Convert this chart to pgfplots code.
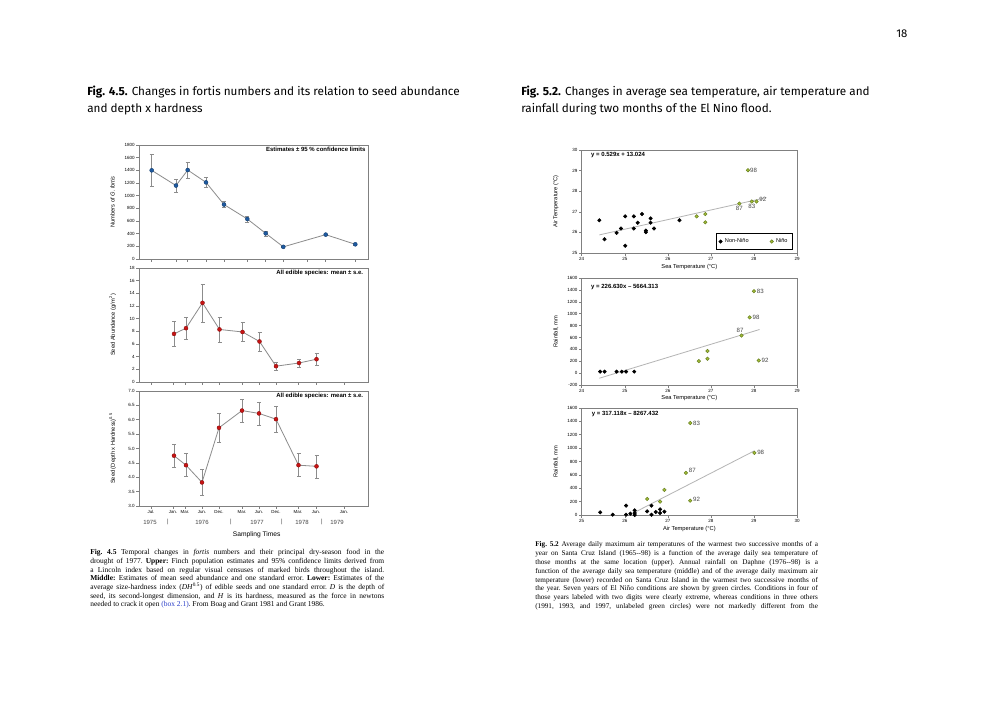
\documentclass[border=0pt]{standalone}
\usepackage{fontspec}
\setmainfont{Liberation Sans}
\newfontfamily\capfont{Liberation Serif}
\newfontfamily\headfont{Fira Sans}
\usepackage{pgfplots}
\pgfplotsset{compat=1.18}

\definecolor{framegray}{RGB}{128,128,128}
\definecolor{linegray}{RGB}{140,140,140}
\definecolor{trendgray}{RGB}{180,180,180}
\definecolor{ptblue}{RGB}{30,90,160}
\definecolor{ptred}{RGB}{200,20,20}
\definecolor{ninogreen}{RGB}{165,190,55}
\definecolor{ninoedge}{RGB}{105,130,35}
\definecolor{numgray}{RGB}{70,70,70}
\definecolor{boxblue}{RGB}{40,60,200}

\newcommand\tf[1]{\fontsize{#1}{#1}\selectfont}

\pgfplotsset{
  panel/.style={
    scale only axis,
    axis line style={framegray, line width=0.5pt},
    tick style={framegray, line width=0.4pt},
    tick align=outside, major tick length=2pt,
    xtick pos=bottom, ytick pos=left,
    /pgf/number format/assume math mode=true,
    /pgf/number format/1000 sep={},
    tick label style={font=\tf{3.4}, inner sep=1pt},
    label style={font=\tf{4.3}},
  },
  left panel/.style={panel,
    width=171.75pt, height=85.5pt, xmin=139, xmax=368,
    ylabel style={at={(rel axis cs:-0.115,0.5)}, anchor=center},
  },
  right panel/.style={panel,
    width=161.5pt, xmin=24, xmax=29, xtick distance=1,
    ylabel style={at={(rel axis cs:-0.12,0.5)}, anchor=center},
    legend cell align=left,
  },
  series/.style={linegray, line width=0.6pt, mark=*, mark size=1.5pt,
    error bars/y dir=both, error bars/y explicit,
    error bars/error bar style={linegray, line width=0.4pt},
    error bars/error mark options={rotate=90, mark size=1.5pt, linegray, line width=0.4pt}},
  blk/.style={only marks, mark=*, mark size=1.3pt, mark options={fill=black, draw=black}},
  grn/.style={only marks, mark=*, mark size=1.3pt, mark options={fill=ninogreen, draw=ninoedge, line width=0.4pt}},
  trend/.style={trendgray, line width=0.6pt, no marks, forget plot},
}
\tikzset{yr/.style={numgray, font=\tf{4.5}, inner sep=0.5pt},
  lbl/.style={numgray, font=\tf{4.6}, inner sep=0.5pt}}

\begin{document}
% picture units: 1 unit = one pixel of the 1000x708 page, y downwards
\begin{tikzpicture}[x=0.75pt, y=-0.75pt]
\fill[white] (0,0) rectangle (1000,708);

% page number and headings
\node[anchor=base west, inner sep=0, font=\headfont\fontsize{8.5}{10}\selectfont] at (896,37) {18};
\node[anchor=base west, inner sep=0, font=\headfont\fontsize{8.8}{13}\selectfont] at (87,95) {\textbf{Fig. 4.5.} Changes in fortis numbers and its relation to seed abundance};
\node[anchor=base west, inner sep=0, font=\headfont\fontsize{8.8}{13}\selectfont] at (87,112.5) {and depth x hardness};
\node[anchor=base west, inner sep=0, font=\headfont\fontsize{8.8}{13}\selectfont] at (521,95) {\textbf{Fig. 5.2.} Changes in average sea temperature, air temperature and};
\node[anchor=base west, inner sep=0, font=\headfont\fontsize{8.8}{13}\selectfont] at (521,112.5) {rainfall during two months of the El Nino flood.};

% ---------- Fig. 4.5, upper: finch numbers
\begin{axis}[left panel, at={(104.25pt,-194.25pt)}, anchor=south west,
    ymin=0, ymax=1800, ytick distance=200,
    xtick={151.7,176,187.7,206,224,247.3,265.7,283.3,307.7,325.7,355.3}, xticklabels={},
    ylabel={Numbers of \textit{G. fortis}}]
\addplot[series, mark options={fill=ptblue, draw=ptblue!70!black, line width=0.3pt}] coordinates {
  (151.7,1400) +- (0,250)
  (176,1160) +- (0,100)
  (187.7,1405) +- (0,130)
  (206,1210) +- (0,80)
  (224,860) +- (0,50)
  (247.3,632) +- (0,45)
  (265.7,405) +- (0,40)
  (283.3,192) +- (0,10)
  (325.7,385) +- (0,10)
  (355.3,232) +- (0,10)
};
\node[anchor=east, inner sep=0, font=\bfseries\tf{4.5}] at (rel axis cs:0.99,0.962) {Estimates ± 95 \% confidence limits};
\end{axis}

% ---------- Fig. 4.5, middle: seed abundance
\begin{axis}[left panel, at={(104.25pt,-286.5pt)}, anchor=south west,
    ymin=0, ymax=18, ytick distance=2,
    xtick={151,173,185,202,219,242,259,276,298,316,344}, xticklabels={},
    ylabel={Seed Abundance (g/m\textsuperscript{2})}]
\addplot[series, mark options={fill=ptred, draw=ptred!70!black, line width=0.3pt}] coordinates {
  (174,7.6) +- (0,2.0)
  (186,8.5) +- (0,1.8)
  (202.5,12.5) +- (0,3.0)
  (219.5,8.3) +- (0,2.0)
  (242.5,7.9) +- (0,1.5)
  (259.5,6.4) +- (0,1.5)
  (276,2.5) +- (0,0.6)
  (299,3.0) +- (0,0.6)
  (316.5,3.6) +- (0,0.9)
};
\node[anchor=east, inner sep=0, font=\bfseries\tf{4.5}] at (rel axis cs:0.98,0.953) {All edible species: mean ± s.e.};
\end{axis}

% ---------- Fig. 4.5, lower: size-hardness index
\begin{axis}[left panel, at={(104.25pt,-379.5pt)}, anchor=south west, height=86.25pt,
    ymin=3, ymax=7, ytick distance=0.5,
    yticklabel style={/pgf/number format/.cd, fixed, fixed zerofill, precision=1},
    xtick={151,173,185,202,219,242,259,276,298,316,344},
    xticklabels={Jul.,Jan.,Mar.,Jun.,Dec.,Mar.,Jun.,Dec.,Mar.,Jun.,Jan.},
    xticklabel style={font=\tf{3.3}},
    ylabel={Seed (Depth x Hardness)\textsuperscript{0.5}},
    xlabel={Sampling Times},
    xlabel style={at={(rel axis cs:0.514,-0.25)}, anchor=center, font=\tf{5}}]
\addplot[series, mark options={fill=ptred, draw=ptred!70!black, line width=0.3pt}] coordinates {
  (174,4.75) +- (0,0.4)
  (186,4.42) +- (0,0.4)
  (202,3.82) +- (0,0.45)
  (219,5.72) +- (0,0.5)
  (242,6.32) +- (0,0.4)
  (259,6.22) +- (0,0.4)
  (276,6.02) +- (0,0.45)
  (298.5,4.42) +- (0,0.4)
  (316.5,4.38) +- (0,0.4)
};
\node[anchor=east, inner sep=0, font=\bfseries\tf{4.5}] at (rel axis cs:0.98,0.957) {All edible species: mean ± s.e.};
\end{axis}
\node[yr] at (150,522) {1975};
\node[yr] at (168,522) {|};
\node[yr] at (202,522) {1976};
\node[yr] at (231,522) {|};
\node[yr] at (257,522) {1977};
\node[yr] at (282,522) {|};
\node[yr] at (302,522) {1978};
\node[yr] at (322,522) {|};
\node[yr] at (337,522) {1979};

% ---------- Fig. 5.2, upper: air vs sea temperature
\begin{axis}[right panel, at={(436.275pt,-189.75pt)}, anchor=south west, height=77.25pt,
    ymin=25, ymax=30, ytick distance=1,
    ylabel={Air Temperature (°C)},
    xlabel={Sea Temperature (°C)},
    xlabel style={at={(rel axis cs:0.5,-0.136)}, anchor=center},
    legend style={at={(0.981,0.03)}, anchor=south east, draw=black, line width=0.4pt,
      font=\tf{4.2}, legend columns=2, inner sep=1.8pt,
      /tikz/every even column/.append style={column sep=14pt}}]
\addplot[trend] coordinates {(24.41,25.88) (28.29,27.69)};
\addplot[blk] coordinates {
  (24.41,26.59) (24.53,25.67) (24.81,25.98) (24.91,26.19) (25.01,26.78) (25.01,25.35)
  (25.21,26.78) (25.21,26.19) (25.30,26.47) (25.40,26.89) (25.49,26.09) (25.49,26.01)
  (25.60,26.68) (25.60,26.47) (25.68,26.19) (26.27,26.59)
};
\addlegendentry{Non-Niño}
\addplot[grn] coordinates {
  (26.67,26.78) (26.87,26.89) (26.87,26.49) (27.66,27.40) (27.86,29.02) (27.95,27.50) (28.06,27.50)
};
\addlegendentry{Niño}
\node[anchor=west, inner sep=0, font=\bfseries\tf{4.5}] at (rel axis cs:0.043,0.951) {y = 0.529x + 13.024};
\node[lbl, anchor=west, xshift=1pt] at (axis cs:27.86,29.02) {98};
\node[lbl, anchor=north, yshift=-1.5pt] at (axis cs:27.66,27.40) {87};
\node[lbl, anchor=north, yshift=-1.5pt] at (axis cs:27.95,27.50) {83};
\node[lbl, anchor=west, xshift=1.5pt, yshift=1.5pt] at (axis cs:28.06,27.50) {92};
\end{axis}

% ---------- Fig. 5.2, middle: rainfall vs sea temperature
\begin{axis}[right panel, at={(436.275pt,-288.75pt)}, anchor=south west, height=80.25pt,
    ymin=-200, ymax=1600, ytick distance=200,
    ylabel={Rainfall, mm},
    xlabel={Sea Temperature (°C)},
    xlabel style={at={(rel axis cs:0.5,-0.121)}, anchor=center}]
\addplot[trend] coordinates {(24.41,-86) (28.13,734)};
\addplot[blk] coordinates {
  (24.43,25) (24.53,25) (24.81,25) (24.93,25) (25.03,25) (25.22,25)
};
\addplot[grn] coordinates {
  (26.72,202) (26.92,242) (26.92,372) (27.71,632) (27.90,938) (28.00,1379) (28.11,213)
};
\node[anchor=west, inner sep=0, font=\bfseries\tf{4.5}] at (rel axis cs:0.043,0.919) {y = 226.630x -- 5664.313};
\node[lbl, anchor=west, xshift=1.5pt] at (axis cs:28.00,1379) {83};
\node[lbl, anchor=west, xshift=1.5pt] at (axis cs:27.90,938) {98};
\node[lbl, anchor=south, yshift=1.5pt, xshift=-1pt] at (axis cs:27.71,632) {87};
\node[lbl, anchor=west, xshift=1.5pt] at (axis cs:28.11,213) {92};
\end{axis}

% ---------- Fig. 5.2, lower: rainfall vs air temperature
\begin{axis}[right panel, at={(436.275pt,-386.25pt)}, anchor=south west, height=80.25pt,
    xmin=25, xmax=30,
    ymin=0, ymax=1600, ytick distance=200,
    ylabel={Rainfall, mm},
    xlabel={Air Temperature (°C)},
    xlabel style={at={(rel axis cs:0.5,-0.131)}, anchor=center}]
\addplot[trend] coordinates {(26.23,40) (29.01,960)};
\addplot[blk] coordinates {
  (25.43,40) (25.72,5) (26.03,140) (26.03,5) (26.13,20) (26.23,70) (26.23,30) (26.23,0)
  (26.52,55) (26.62,140) (26.62,5) (26.72,45) (26.82,85) (26.82,30) (26.92,50)
};
\addplot[grn] coordinates {
  (26.52,240) (26.82,200) (26.92,375) (27.42,630) (27.52,1375) (27.52,215) (29.01,930)
};
\node[anchor=west, inner sep=0, font=\bfseries\tf{4.5}] at (rel axis cs:0.046,0.941) {y = 317.118x -- 8267.432};
\node[lbl, anchor=west, xshift=1.5pt] at (axis cs:27.52,1375) {83};
\node[lbl, anchor=west, xshift=1.5pt, yshift=2pt] at (axis cs:27.42,630) {87};
\node[lbl, anchor=west, xshift=1.5pt, yshift=1pt] at (axis cs:27.52,215) {92};
\node[lbl, anchor=west, xshift=1.5pt] at (axis cs:29.01,930) {98};
\end{axis}

% ---------- captions
\node[anchor=north west, inner sep=0, text width=220.5pt, align=justify,
      font=\capfont\fontsize{5.6}{6.55}\selectfont] at (90,549)
 {\frenchspacing\tolerance=10000\hyphenpenalty=10000\pretolerance=-1
 \textbf{Fig. 4.5} Temporal changes in \textit{fortis} numbers and their principal dry-season food in the\linebreak
 drought of 1977. \textbf{Upper:} Finch population estimates and 95\% confidence limits derived from\linebreak
 a Lincoln index based on regular visual censuses of marked birds throughout the island.\linebreak
 \textbf{Middle:} Estimates of mean seed abundance and one standard error. \textbf{Lower:} Estimates of the\linebreak
 average size-hardness index (\textit{DH}\textsuperscript{0.5}) of edible seeds and one standard error. \textit{D} is the depth of\linebreak
 seed, its second-longest dimension, and \textit{H} is its hardness, measured as the force in newtons\linebreak
 needed to crack it open \textcolor{boxblue}{(box 2.1)}. From Boag and Grant 1981 and Grant 1986.\par};

\node[anchor=north west, inner sep=0, text width=212pt, align=justify,
      font=\capfont\fontsize{5.4}{6.6}\selectfont] at (535,541.5)
 {\frenchspacing\tolerance=10000\hyphenpenalty=10000\pretolerance=-1\parfillskip=0pt
 \textbf{Fig. 5.2} Average daily maximum air temperatures of the warmest two successive months of a\linebreak
 year on Santa Cruz Island (1965--98) is a function of the average daily sea temperature of\linebreak
 those months at the same location (upper). Annual rainfall on Daphne (1976--98) is a\linebreak
 function of the average daily sea temperature (middle) and of the average daily maximum air\linebreak
 temperature (lower) recorded on Santa Cruz Island in the warmest two successive months of\linebreak
 the year. Seven years of El Niño conditions are shown by green circles. Conditions in four of\linebreak
 those years labeled with two digits were clearly extreme, whereas conditions in three others\linebreak
 (1991, 1993, and 1997, unlabeled green circles) were not markedly different from the\par};
\end{tikzpicture}
\end{document}
